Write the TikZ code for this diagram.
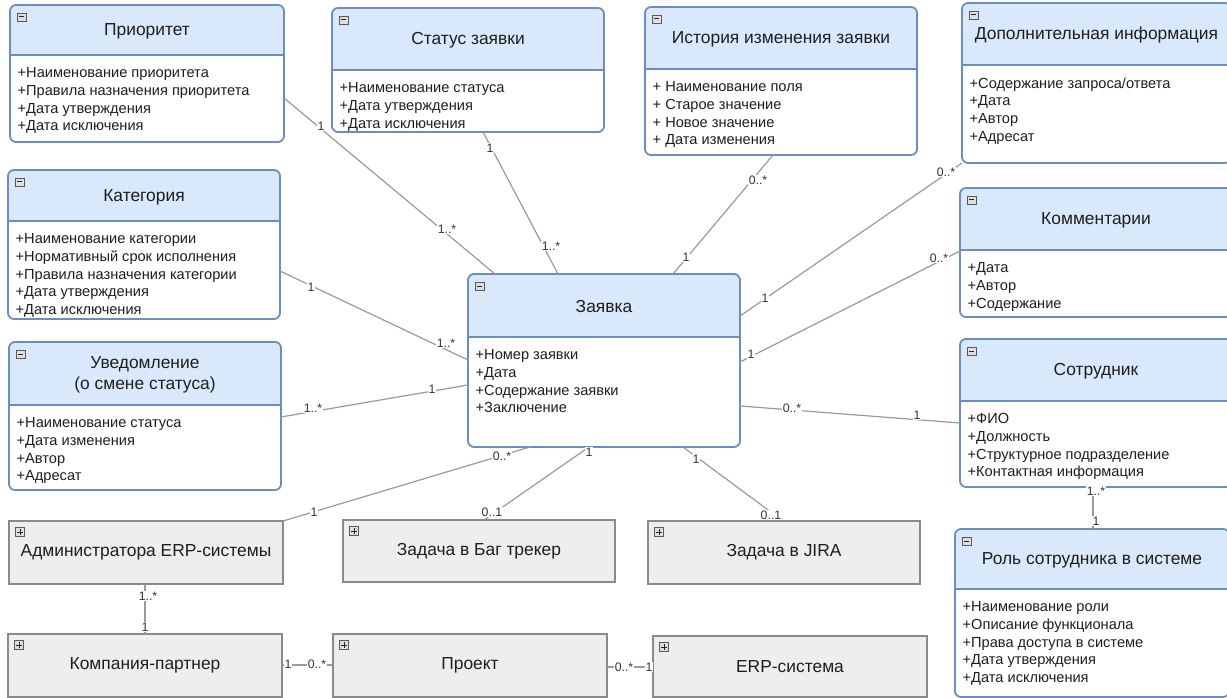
\documentclass[tikz,border=0pt]{standalone}
\usepackage{fontspec}
\setmainfont{Liberation Sans}
\usetikzlibrary{calc}

\definecolor{hdr}{HTML}{DAE8FC}
\definecolor{bord}{HTML}{6C8EBF}
\definecolor{gfill}{HTML}{EEEEEE}
\definecolor{gbord}{HTML}{8A8A8A}
\definecolor{connc}{HTML}{9A9A9A}
\definecolor{txt}{HTML}{1E1E1E}
\definecolor{labtxt}{HTML}{333333}

\tikzset{
  boxframe/.style={inner sep=0, outer sep=0, anchor=north west},
  bluebord/.style={draw=bord, line width=1.8pt},
  titletext/.style={font=\fontsize{17.4}{21}\selectfont, text=txt, align=center, inner sep=0},
  attrtext/.style={font=\fontsize{14.6}{17.7}\selectfont, text=txt, align=left, inner sep=0, anchor=north west},
  graybox/.style={boxframe, draw=gbord, line width=2.2pt, fill=gfill, font=\fontsize{17.4}{21}\selectfont, text=txt},
  iconbox/.style={draw=gray!70!black, fill=gray!25, line width=0.6pt, minimum width=9pt, minimum height=8pt, inner sep=0},
  iconmark/.style={line width=1pt, draw=gray!30!black},
  link/.style={draw=connc, line width=1.2pt},
  mult/.style={font=\fontsize{12.3}{14}\selectfont, text=labtxt, fill=white, inner sep=0.6pt},
}

% UML class: name, x1, y1, x2, y2, header bottom, title, attributes
\newcommand\classbox[8]{%
  \node[boxframe, minimum width={(#4-#2)*1pt}, minimum height={(#5-#3)*1pt}] (#1) at (#2,#3) {};
  \begin{scope}
    \clip (#2-2,#3-2) rectangle (#4+2,#6);
    \fill[hdr, rounded corners=6pt] (#2,#3) rectangle (#4,#5);
  \end{scope}
  \draw[bluebord] (#2,#6) -- (#4,#6);
  \draw[bluebord, rounded corners=6pt] (#2,#3) rectangle (#4,#5);
  \node[iconbox] (#1-i) at (#2+11.5,#3+12) {};
  \draw[iconmark] ($(#1-i.center)+(-2.6,0)$) -- ($(#1-i.center)+(2.6,0)$);
  \node[titletext] (#1-t) at ({(#2+#4)/2},{(#3+#6)/2+1.5}) {#7};
  \node[attrtext] (#1-a) at (#2+7.5,#6+12.5) {#8};
}

% Collapsed class: name, x1, y1, x2, y2, title
\newcommand\plainbox[6]{%
  \node[graybox, minimum width={(#4-#2)*1pt}, minimum height={(#5-#3)*1pt}] (#1) at (#2,#3) {#6};
  \node[iconbox, minimum height=9pt] (#1-i) at (#2+11,#3+11) {};
  \draw[iconmark] ($(#1-i.center)+(-2.6,0)$) -- ($(#1-i.center)+(2.6,0)$);
  \draw[iconmark] ($(#1-i.center)+(0,-2.6)$) -- ($(#1-i.center)+(0,2.6)$);
}

\begin{document}
\begin{tikzpicture}[x=1pt, y=-1pt]
\fill[white] (0,0) rectangle (1227,698);
\useasboundingbox (0,0) rectangle (1227,698);

% ---- classes ----
\classbox{prio}{10}{5}{284}{142}{55}{Приоритет}{+Наименование приоритета\\+Правила назначения приоритета\\+Дата утверждения\\+Дата исключения}
\classbox{stat}{332}{8}{604}{132}{70}{Статус заявки}{+Наименование статуса\\+Дата утверждения\\+Дата исключения}
\classbox{hist}{645}{7}{917}{155}{69}{История изменения заявки}{+ Наименование поля\\+ Старое значение\\+ Новое значение\\+ Дата изменения}
\classbox{dop}{962}{3}{1231}{163}{65}{Дополнительная информация}{+Содержание запроса/ответа\\+Дата\\+Автор\\+Адресат}
\classbox{comm}{960}{188}{1232}{317}{250}{Комментарии}{+Дата\\+Автор\\+Содержание}
\classbox{cat}{8}{170}{280}{319}{221}{Категория}{+Наименование категории\\+Нормативный срок исполнения\\+Правила назначения категории\\+Дата утверждения\\+Дата исключения}
\classbox{notif}{9}{342}{281}{490}{405}{Уведомление\\(о смене статуса)}{+Наименование статуса\\+Дата изменения\\+Автор\\+Адресат}
\classbox{zay}{468}{274}{740}{447}{337}{Заявка}{+Номер заявки\\+Дата\\+Содержание заявки\\+Заключение}
\classbox{emp}{960}{339}{1232}{487}{401}{Сотрудник}{+ФИО\\+Должность\\+Структурное подразделение\\+Контактная информация}
\classbox{role}{955}{529}{1229}{697}{589}{Роль сотрудника в системе}{+Наименование роли\\+Описание функционала\\+Права доступа в системе\\+Дата утверждения\\+Дата исключения}

\plainbox{adm}{9}{521}{283}{584}{Администратора ERP-системы}
\plainbox{bug}{343}{520}{615}{582}{Задача в Баг трекер}
\plainbox{jira}{648}{521}{920}{584}{Задача в JIRA}
\plainbox{comp}{8}{634}{282}{697}{Компания-партнер}
\plainbox{proj}{333}{634}{607}{697}{Проект}
\plainbox{erp}{653}{636}{927}{697}{ERP-система}

% ---- associations ----
\draw[link] ($(prio.north east)+(0,93)$) -- ($(zay.north west)+(27,0)$);
\draw[link] ($(stat.south west)+(151,0)$) -- ($(zay.north west)+(90,0)$);
\draw[link] ($(hist.south west)+(128,0)$) -- ($(zay.north west)+(205,0)$);
\draw[link] (dop.south west) -- ($(zay.north east)+(0,42)$);
\draw[link] ($(comm.north west)+(0,63)$) -- ($(zay.north east)+(0,88)$);
\draw[link] ($(emp.north west)+(0,84)$) -- ($(zay.north east)+(0,132)$);
\draw[link] ($(cat.north east)+(0,101)$) -- ($(zay.north west)+(0,86)$);
\draw[link] ($(notif.north east)+(0,75)$) -- ($(zay.north west)+(0,111)$);
\draw[link] (adm.north east) -- ($(zay.south west)+(62,0)$);
\draw[link] ($(bug.north west)+(141,0)$) -- ($(zay.south west)+(121,0)$);
\draw[link] ($(jira.north west)+(135,0)$) -- ($(zay.south west)+(215,0)$);
\draw[link] ($(emp.south west)+(133,0)$) -- ($(role.north west)+(138,0)$);
\draw[link] ($(adm.south west)+(136,0)$) -- ($(comp.north west)+(137,0)$);
\draw[link] ($(comp.north east)+(0,31)$) -- ($(proj.north west)+(0,31)$);
\draw[link] ($(proj.north east)+(0,33)$) -- ($(erp.north west)+(0,31)$);

% ---- multiplicities ----
\node[mult] (m-prio-a) at (321,126) {1};
\node[mult] (m-prio-b) at (447,229) {1..*};
\node[mult] (m-stat-a) at (490,148) {1};
\node[mult] (m-stat-b) at (551,246) {1..*};
\node[mult] (m-hist-a) at (758,180) {0..*};
\node[mult] (m-hist-b) at (686,257) {1};
\node[mult] (m-dop-a) at (946,172) {0..*};
\node[mult] (m-dop-b) at (765,298) {1};
\node[mult] (m-comm-a) at (939,258) {0..*};
\node[mult] (m-comm-b) at (751,354) {1};
\node[mult] (m-cat-a) at (311,287) {1};
\node[mult] (m-cat-b) at (446,343) {1..*};
\node[mult] (m-notif-a) at (313,408) {1..*};
\node[mult] (m-notif-b) at (432,389) {1};
\node[mult] (m-adm-a) at (314,512) {1};
\node[mult] (m-adm-b) at (502,456) {0..*};
\node[mult] (m-bug-a) at (492,512) {0..1};
\node[mult] (m-bug-b) at (589,452) {1};
\node[mult] (m-jira-a) at (771,515) {0..1};
\node[mult] (m-jira-b) at (696,459) {1};
\node[mult] (m-emp-a) at (792,408) {0..*};
\node[mult] (m-emp-b) at (917,415) {1};
\node[mult] (m-role-a) at (1096,491) {1..*};
\node[mult] (m-role-b) at (1096,521) {1};
\node[mult] (m-comp-a) at (148,596) {1..*};
\node[mult] (m-comp-b) at (145,627) {1};
\node[mult] (m-proj-a) at (288,664) {1};
\node[mult] (m-proj-b) at (317,664) {0..*};
\node[mult] (m-erp-a) at (624,667) {0..*};
\node[mult] (m-erp-b) at (649,667) {1};
\end{tikzpicture}
\end{document}
